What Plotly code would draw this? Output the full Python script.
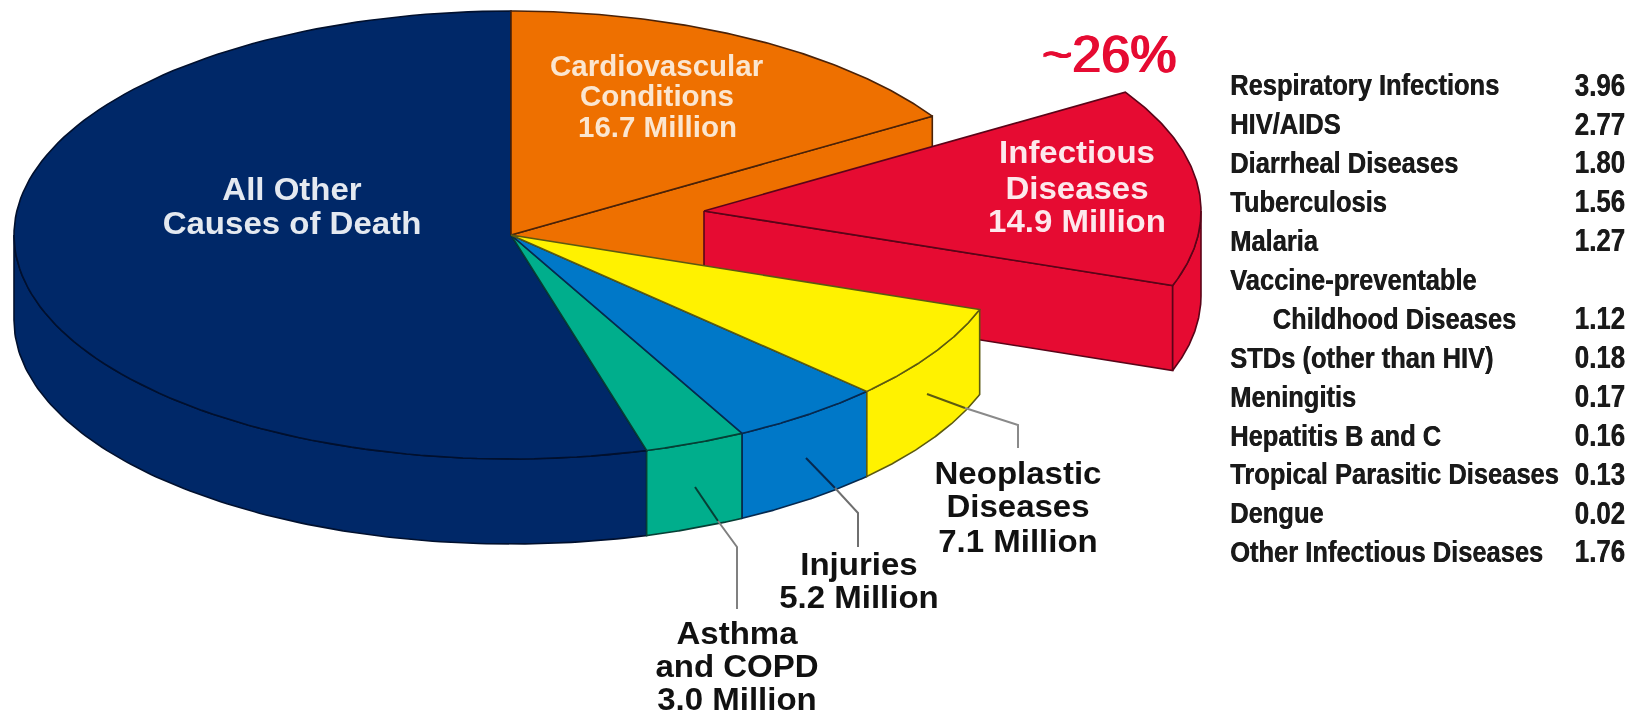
import numpy as np
import plotly.graph_objects as go

# Slices, clockwise from twelve o'clock. Drawn share (%) is read from the picture,
# since the pie is not drawn to the scale of its labelled millions.
slice_names = ["Cardiovascular Conditions", "Infectious Diseases", "Neoplastic Diseases",
               "Injuries", "Asthma and COPD", "All Other Causes of Death"]
slice_millions = [16.7, 14.9, 7.1, 5.2, 3.0, None]
slice_shares = [16.1, 14.3, 6.9, 5.0, 3.3, 54.4]
slice_colors = ["#EE7000", "#E60B32", "#FFF200", "#0078C8", "#00AE8C", "#002868"]
slice_edges = ["#4a2208", "#5a0418", "#5c5a10", "#06294f", "#063f35", "#00102e"]

table_names = ["Respiratory Infections", "HIV/AIDS", "Diarrheal Diseases", "Tuberculosis", "Malaria",
               "Vaccine-preventable", "\u00a0\u00a0\u00a0\u00a0\u00a0\u00a0Childhood Diseases",
               "STDs (other than HIV)", "Meningitis", "Hepatitis B and C",
               "Tropical Parasitic Diseases", "Dengue", "Other Infectious Diseases"]
table_values = ["3.96", "2.77", "1.80", "1.56", "1.27", "", "1.12", "0.18", "0.17", "0.16", "0.13", "0.02", "1.76"]

CX, CY, RX, RY, DEPTH = 511, 235, 497, 224, 85
EXPLODE = (193, -24)
W, H = 1636, 717

bounds = 90 - np.cumsum([0] + slice_shares) * 3.6


def pt(t, off=(0, 0), dz=0):
    r = np.radians(t)
    return CX + off[0] + RX * np.cos(r), CY + off[1] - RY * np.sin(r) + dz


def arc(a, b, off=(0, 0), dz=0, n=120):
    return [pt(t, off, dz) for t in np.linspace(a, b, n)]


fig = go.Figure()


def poly(points, fill, edge, width=1.6):
    xs, ys = zip(*points)
    fig.add_trace(go.Scatter(x=list(xs) + [xs[0]], y=list(ys) + [ys[0]], mode="lines", fill="toself",
                             fillcolor=fill, line=dict(color=edge, width=width), hoverinfo="skip",
                             showlegend=False))


def wedge(a, b, color, edge, off=(0, 0)):
    poly([(CX + off[0], CY + off[1])] + arc(a, b, off), color, edge)


def rim(a, b, color, edge, off=(0, 0)):
    poly(arc(a, b, off) + arc(b, a, off, DEPTH), color, edge)


i_orange, i_red, i_yel, i_blue, i_green, i_navy = range(6)

# radial wall left behind by the pulled-out slice
a = bounds[i_orange + 1]
poly([(CX, CY), pt(a), pt(a, dz=DEPTH), (CX, CY + DEPTH)], slice_colors[i_orange], slice_edges[i_orange])

# pulled-out slice: radial wall, rim, top
ra, rb = bounds[i_red], bounds[i_red + 1]
ax, ay = CX + EXPLODE[0], CY + EXPLODE[1]
poly([(ax, ay), pt(rb, EXPLODE), pt(rb, EXPLODE, DEPTH), (ax, ay + DEPTH)], slice_colors[i_red], slice_edges[i_red])
rim(0, rb, slice_colors[i_red], slice_edges[i_red], EXPLODE)
wedge(ra, rb, slice_colors[i_red], slice_edges[i_red], EXPLODE)

# remaining rims, back to front
rim(bounds[i_navy], -180, slice_colors[i_navy], slice_edges[i_navy])
for i in [i_green, i_blue, i_yel]:
    rim(bounds[i], bounds[i + 1], slice_colors[i], slice_edges[i])

# top faces
for i in [i_navy, i_orange, i_green, i_blue, i_yel]:
    wedge(bounds[i], bounds[i + 1], slice_colors[i], slice_edges[i])

# leader lines
leaders = [
    ([927, 965, 1018, 1018], [394, 408, 425, 448], "#5c5a10", "#8a8a8a"),
    ([806, 835, 858, 858], [458, 488, 513, 547], "#06294f", "#6f6f6f"),
    ([695, 718, 737, 737], [487, 521, 547, 609], "#063f35", "#808080"),
]
for xs, ys, inner, outer in leaders:
    fig.add_trace(go.Scatter(x=xs[:2], y=ys[:2], mode="lines", line=dict(color=inner, width=2),
                             hoverinfo="skip", showlegend=False))
    fig.add_trace(go.Scatter(x=xs[1:], y=ys[1:], mode="lines", line=dict(color=outer, width=2),
                             hoverinfo="skip", showlegend=False))


def label(x, y, text, color, size, bold=True, shadow=None):
    font = dict(family="Liberation Sans", size=size, color=color)
    if shadow:
        font["shadow"] = shadow
    fig.add_annotation(x=x, y=y, text=f"<b>{text}</b>" if bold else text, showarrow=False, xanchor="center",
                       yanchor="middle", font=font)


def block(x, ys, lines, color):
    fig.add_trace(go.Scatter(x=[x] * len(ys), y=ys, mode="text", text=lines, textposition="middle center",
                             hoverinfo="skip", showlegend=False,
                             textfont=dict(family="Liberation Sans", size=31, color=color, weight="bold")))


for y, t in zip([65, 95, 126], ["Cardiovascular", "Conditions", "16.7 Million"]):
    label(657, y, t, "#FBE6D0", 29.5)
block(292, [192, 226], ["All Other", "Causes of Death"], "#E4E9F0")
block(1077, [155, 191, 224], ["Infectious", "Diseases", "14.9 Million"], "#FDE8EC")
block(1018, [476, 509, 544], ["Neoplastic", "Diseases", "7.1 Million"], "#111111")
block(859, [567, 600], ["Injuries", "5.2 Million"], "#111111")
block(737, [636, 669, 702], ["Asthma", "and COPD", "3.0 Million"], "#111111")
label(1109, 54, "~26%", "#E60B32", 52, bold=False, shadow="1px 0 0 #E60B32, -1px 0 0 #E60B32")

# table drawn as text traces, so the text can be condensed like the reference's narrow face
row_y = [88 + k * 38.9 for k in range(len(table_names))]
table_font = dict(family="Liberation Sans", color="#1a1a1a", weight="bold", shadow="0.5px 0 0 #1a1a1a")
fig.add_trace(go.Scatter(x=[1230] * len(table_names), y=row_y, mode="text", text=table_names,
                         textposition="middle right", hoverinfo="skip", showlegend=False,
                         textfont=dict(size=30, **table_font)))
fig.add_trace(go.Scatter(x=[1625] * len(table_values), y=row_y, mode="text", text=table_values,
                         textposition="middle left", hoverinfo="skip", showlegend=False,
                         textfont=dict(size=30.5, **table_font)))

fig.update_layout(width=W, height=H, margin=dict(l=0, r=0, t=0, b=0), paper_bgcolor="white",
                  plot_bgcolor="white", showlegend=False,
                  xaxis=dict(range=[0, W], visible=False, fixedrange=True),
                  yaxis=dict(range=[H, 0], visible=False, fixedrange=True))

post = """
document.body.style.margin = '0';
document.body.style.overflow = 'hidden';
document.querySelectorAll('.textpoint text').forEach(function (t) {
  var size = parseFloat(t.style.fontSize);
  var f = size === 30 ? 0.85 : (size === 30.5 ? 0.85 : 1.065);
  var x = parseFloat(t.getAttribute('x')) || 0;
  var prev = t.getAttribute('transform') || '';
  t.setAttribute('transform', prev + ' translate(' + x + ',0) scale(' + f + ',1) translate(' + (-x) + ',0)');
});
document.querySelectorAll('.main-svg').forEach(function (s) { s.style.filter = 'blur(0.6px)'; });
"""
fig.write_html("out.html", config=dict(displayModeBar=False), post_script=post)
